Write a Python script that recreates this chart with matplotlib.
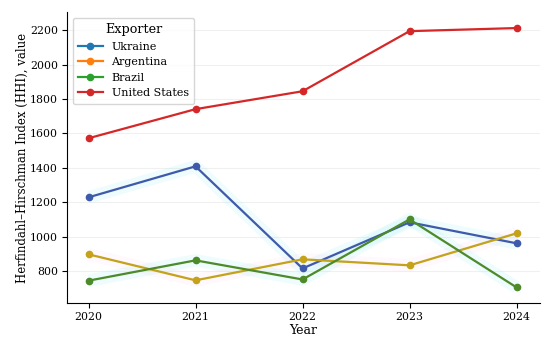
import matplotlib
matplotlib.use("Agg")
import matplotlib.pyplot as plt

years = [2020, 2021, 2022, 2023, 2024]
ukraine = [1229, 1409, 816, 1084, 962]
argentina = [898, 747, 869, 834, 1020]
brazil = [745, 863, 752, 1101, 706]
united_states = [1572, 1741, 1845, 2194, 2212]

series = [
    ("Ukraine", ukraine, "#1f77b4", "#3f5aab", "#7fe8f0"),
    ("Argentina", argentina, "#ff7f0e", "#c4a21a", "#ffc8e8"),
    ("Brazil", brazil, "#2ca02c", "#4c8a2a", "#7fe8f0"),
    ("United States", united_states, "#d62728", "#d62728", None),
]

plt.rcParams["font.family"] = "DejaVu Serif"

fig, ax = plt.subplots(figsize=(5.5, 3.44), dpi=100)

for name, vals, legend_color, line_color, glow in series:
    if glow:
        ax.plot(years, vals, color=glow, lw=9, alpha=0.12, solid_capstyle="butt", zorder=1)
    ax.plot(years, vals, color=line_color, lw=1.6, marker="o", markersize=4.5, zorder=3)
    # legend proxy with the base colour
    ax.plot([], [], color=legend_color, lw=1.6, marker="o", markersize=4.5, label=name)

ax.set_xticks(years)
ax.set_xlim(2019.8, 2024.22)
ax.set_ylim(615, 2305)
ax.set_xlabel("Year", fontsize=9, labelpad=1.5)
ax.set_ylabel("Herfindahl\u2013Hirschman Index (HHI), value", fontsize=8.5, labelpad=1)
ax.tick_params(labelsize=7.8, pad=3)
ax.yaxis.grid(True, color="#f0f0f0", lw=0.8)
ax.set_axisbelow(True)
ax.spines["top"].set_visible(False)
ax.spines["right"].set_visible(False)

leg = ax.legend(title="Exporter", loc="upper left", fontsize=8, title_fontsize=9.2,
                labelspacing=0.5, handlelength=2.2, borderaxespad=0.5, borderpad=0.5)

fig.subplots_adjust(left=0.122, right=0.982, top=0.965, bottom=0.119)
fig.savefig("out.png", dpi=100)
